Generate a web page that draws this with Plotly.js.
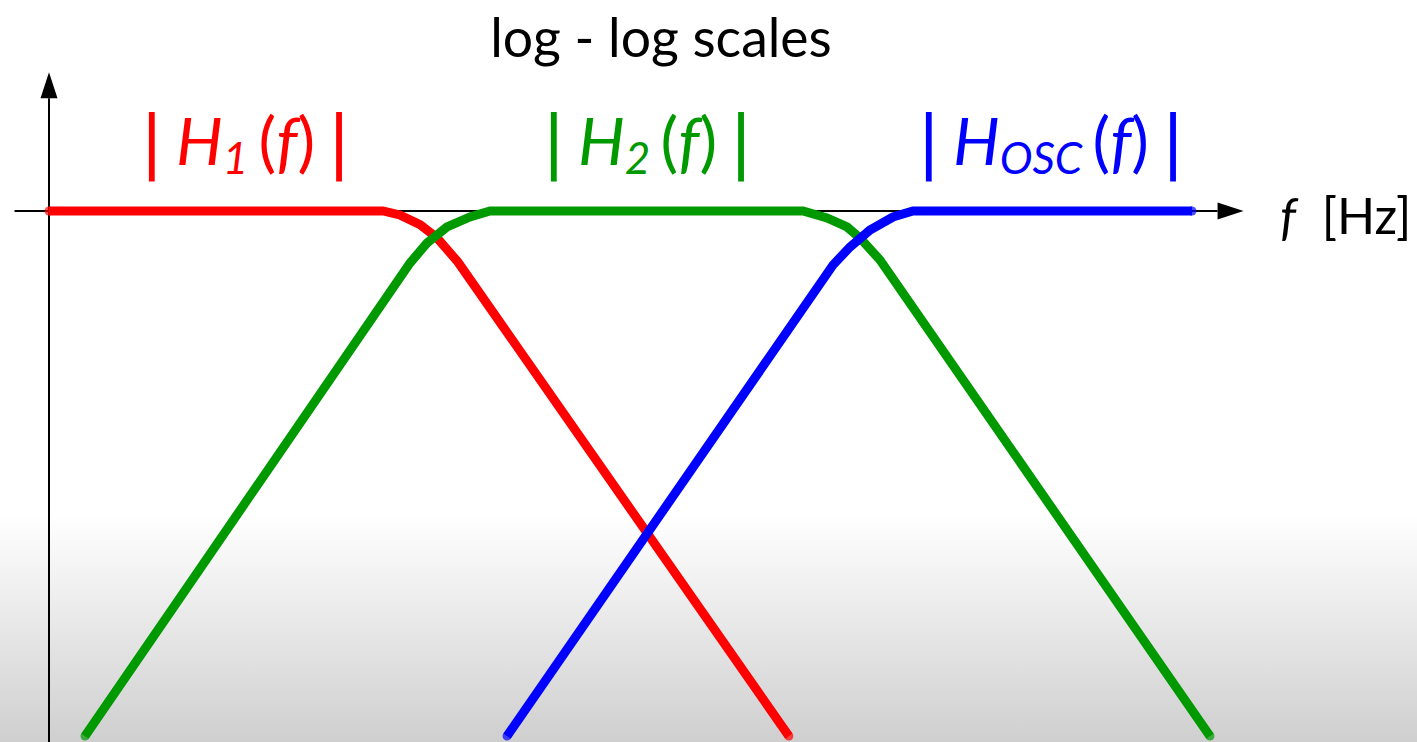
<!DOCTYPE html>
<html>
<head>
<meta charset="utf-8">
<script src="https://cdn.plot.ly/plotly-3.0.1.min.js"></script>
<style>
  html, body { margin: 0; padding: 0; }
  #chart {
    width: 1417px; height: 742px;
    background: linear-gradient(to bottom, #ffffff 0px, #ffffff 515px, #cfcfcf 742px);
  }
</style>
</head>
<body>
<div id="chart"></div>
<script>
// Magnitude responses |H(f)| sketched on log-log axes (frequency in Hz, magnitude as gain)
const h1Freq = [1, 470, 640, 930, 1270, 1870, 830000];
const h1Mag  = [1, 1, 0.95, 0.84, 0.71, 0.52, 0.00121];

const h2Freq = [1.94, 773, 1057, 1528, 2333, 3373, 1076000, 1675000, 2421000, 3076000, 4446000, 1.94e9];
const h2Mag  = [0.00121, 0.514, 0.664, 0.815, 0.926, 1, 1, 0.914, 0.815, 0.708, 0.534, 0.00121];

const hoscFreq = [4613, 1871000, 2559000, 3698000, 5649000, 8166000, 1.393e9];
const hoscMag  = [0.00121, 0.501, 0.631, 0.784, 0.926, 1, 1];

const seriesNames = ['|H1(f)|', '|H2(f)|', '|Hosc(f)|'];
const seriesSubs = ['1', '2', 'OSC'];
const seriesColors = ['#ff0000', '#009900', '#0000ff'];

const W = 1417, Hgt = 742;
const xr = [-0.392, 10.944];   // log10(f) range
const yr = [-2.95, 1.172];     // log10(|H|) range

const toPX = f => (Math.log10(f) - xr[0]) / (xr[1] - xr[0]);
const toPY = h => (Math.log10(h) - yr[0]) / (yr[1] - yr[0]);

// round end caps: a dot at each end of a polyline
const capSizes = n => Array.from({length: n}, (_, i) => (i === 0 || i === n - 1) ? 9 : 0);

const data = [[h1Freq, h1Mag], [h2Freq, h2Mag], [hoscFreq, hoscMag]].map((s, i) => ({
  type: 'scatter',
  mode: 'lines+markers',
  name: seriesNames[i],
  x: s[0], y: s[1],
  line: {color: seriesColors[i], width: 9},
  marker: {color: seriesColors[i], size: capSizes(s[0].length), line: {width: 0}},
  cliponaxis: false,
  hoverinfo: 'skip'
}));

// axis arrows: horizontal axis at |H| = 1, vertical axis at f = 1 Hz
const axisY = toPY(1), axisX = toPX(1);
const xStart = toPX(0.53), xTip = toPX(3.6e9);
const yTip = toPY(5.9);
const headLen = 26, headHalf = 8.5;

const shapes = [
  {type: 'line', xref: 'paper', yref: 'paper', x0: xStart, x1: xTip - headLen / W, y0: axisY, y1: axisY,
   line: {color: '#000', width: 2}, layer: 'below'},
  {type: 'path', xref: 'paper', yref: 'paper',
   path: `M ${xTip},${axisY} L ${xTip - headLen / W},${axisY + headHalf / Hgt} L ${xTip - headLen / W},${axisY - headHalf / Hgt} Z`,
   fillcolor: '#000', line: {width: 0}, layer: 'below'},
  {type: 'line', xref: 'paper', yref: 'paper', x0: axisX, x1: axisX, y0: 0, y1: yTip - headLen / Hgt,
   line: {color: '#000', width: 2}, layer: 'below'},
  {type: 'path', xref: 'paper', yref: 'paper',
   path: `M ${axisX},${yTip} L ${axisX - headHalf / W},${yTip - headLen / Hgt} L ${axisX + headHalf / W},${yTip - headLen / Hgt} Z`,
   fillcolor: '#000', line: {width: 0}, layer: 'below'}
];

// curve labels |H(f)| with tall magnitude bars and a lowered subscript
const labelFont = 'Lato, "Open Sans", sans-serif';
const bar = '<span style="font-family:\'DejaVu Sans\';font-size:70px">|</span>';
const gap = '<span style="font-size:48px"> </span>';
const subOpen = '<span style="font-size:44px;baseline-shift:-9px">';
const labelCenters = [245, 647, 1051];

const annotations = seriesSubs.map((sub, i) => ({
  xref: 'paper', yref: 'paper', x: labelCenters[i] / W, y: 1 - 141 / Hgt,
  xanchor: 'center', yanchor: 'middle', showarrow: false,
  text: `${bar}${gap}<i>H</i>${subOpen}<i>${sub} </i></span>(<i>f</i>)${gap}${bar}`,
  font: {family: labelFont, size: 66, color: seriesColors[i]}
}));
annotations.push({xref: 'paper', yref: 'paper', x: 1345 / W, y: 1 - 215 / Hgt,
  xanchor: 'center', yanchor: 'middle', showarrow: false, text: '<i>f</i>  [Hz]',
  font: {family: labelFont, size: 50, color: '#000'}});

const layout = {
  width: W, height: Hgt,
  margin: {l: 0, r: 0, t: 0, b: 0},
  paper_bgcolor: 'rgba(0,0,0,0)',
  plot_bgcolor: 'rgba(0,0,0,0)',
  showlegend: false,
  title: {text: 'log - log scales', x: 661 / W, xanchor: 'center', y: 1 - 38 / Hgt, yanchor: 'middle',
          font: {family: labelFont, size: 53.5, color: '#000'}},
  xaxis: {type: 'log', range: xr, showgrid: false, zeroline: false, showline: false, showticklabels: false, ticks: ''},
  yaxis: {type: 'log', range: yr, showgrid: false, zeroline: false, showline: false, showticklabels: false, ticks: ''},
  shapes: shapes,
  annotations: annotations
};

Plotly.newPlot('chart', data, layout, {displayModeBar: false, staticPlot: true});
</script>
</body>
</html>
